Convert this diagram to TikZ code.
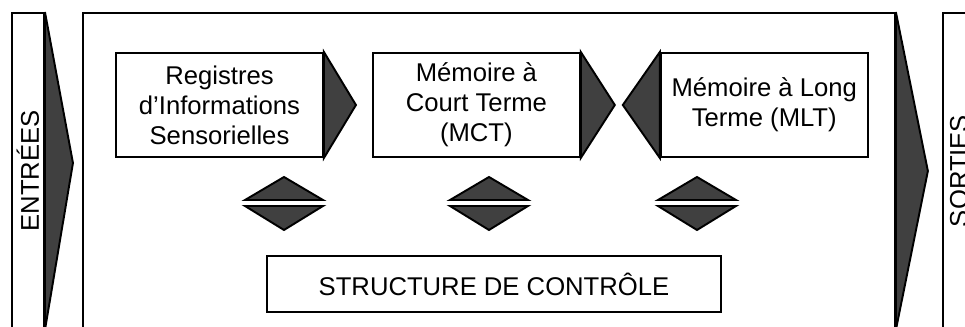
\documentclass[tikz,border=0pt]{standalone}
\usepackage{fontspec}
\setmainfont{Liberation Sans}
\usetikzlibrary{positioning}

\definecolor{darkfill}{RGB}{64,64,64}

\begin{document}
\begin{tikzpicture}[
    x=0.02cm, y=-0.02cm,
    line width=1.1pt,
    txt/.style={font=\fontsize{14.6}{17}\selectfont, align=center},
    box/.style={rectangle, draw, txt, minimum width=4.14cm, minimum height=2.08cm, inner sep=2pt},
    strip/.style={rectangle, draw, minimum width=0.64cm, minimum height=6.32cm},
    vlabel/.style={txt, rotate=90},
    tri/.style={draw, fill=darkfill},
]
    \useasboundingbox (0,0) rectangle (965,327);
    \clip (0,0) rectangle (965,327);

    % Side strips and main frame
    \node[strip] (entrees) at (28,171) {};
    \node[vlabel] (entreesTxt) at (entrees.center) {ENTRÉES};
    \node[rectangle, draw, minimum width=16.24cm, minimum height=6.32cm] (sys) at (489,171) {};
    \node[strip] (sorties) at (959,171) {};
    \node[vlabel] (sortiesTxt) at (sorties.center) {SORTIES};

    % Memory boxes
    \node[box] (ris) at (219.5,105) {Registres\\d’Informations\\Sensorielles};
    \node[box, right=0.96cm of ris] (mct) {Mémoire à\\Court Terme\\(MCT)};
    \node[box, right=1.58cm of mct] (mlt) {Mémoire à Long\\Terme (MLT)};

    % Control structure
    \node[box, minimum width=9.08cm, minimum height=1.12cm] (ctrl) at (494,284) {STRUCTURE DE CONTRÔLE};

    % Arrow heads
    \draw[tri] (entrees.north east) -- ([xshift=0.56cm, yshift=0.16cm]entrees.east) -- (entrees.south east) -- cycle;
    \draw[tri] (sys.north east) -- ([xshift=0.64cm]sys.east) -- (sys.south east) -- cycle;
    \draw[tri] (ris.north east) -- ([xshift=0.64cm]ris.east) -- (ris.south east) -- cycle;
    \draw[tri] (mct.north east) -- ([xshift=0.68cm]mct.east) -- (mct.south east) -- cycle;
    \draw[tri] (mlt.north west) -- ([xshift=-0.74cm]mlt.west) -- (mlt.south west) -- cycle;

    % Links to the control structure
    \foreach \cx [count=\i] in {284,489,697} {
        \coordinate (link\i) at (\cx,203);
        \draw[tri] (link\i) ++(-39,-3) -- ++(78,0) -- ++(-39,-23) -- cycle;
        \draw[tri] (link\i) ++(-39,3) -- ++(78,0) -- ++(-39,24) -- cycle;
    }
\end{tikzpicture}
\end{document}
